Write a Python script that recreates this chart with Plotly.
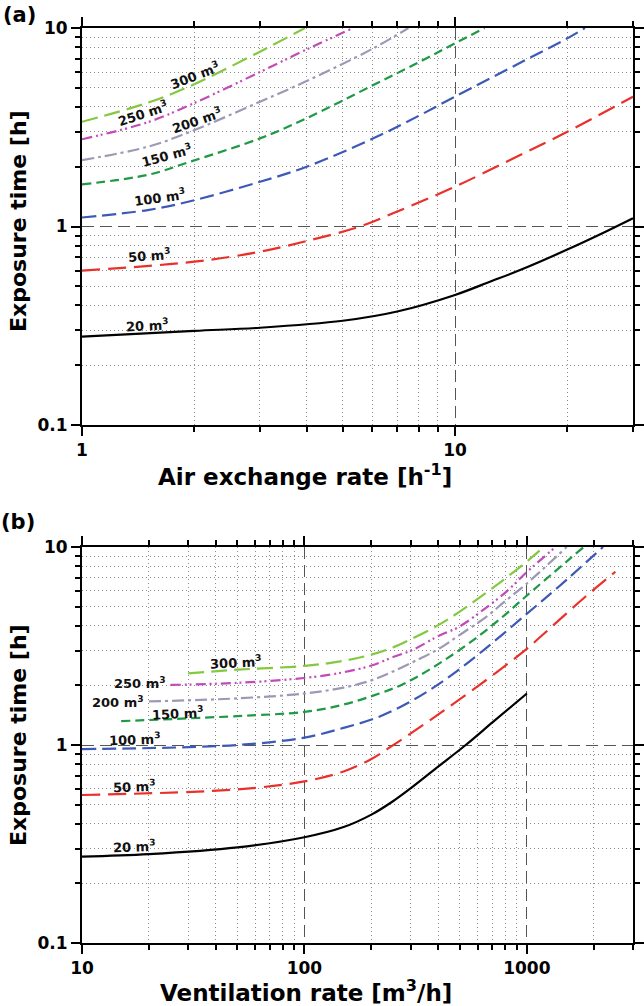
import numpy as np
import plotly.graph_objects as go

# ---------------- data: panel (a) exposure time vs air exchange rate ----------------
a_ach_20 = [1, 2, 3, 5, 7, 10, 12.5, 15, 20, 25, 30]
a_t_20 = [0.279, 0.298, 0.309, 0.335, 0.373, 0.452, 0.53, 0.605, 0.765, 0.93, 1.10]
a_ach_50 = [1, 2, 3, 4, 5.56, 7, 10, 15, 20, 30]
a_t_50 = [0.599, 0.665, 0.746, 0.845, 1.0, 1.19, 1.587, 2.3, 3.0, 4.51]
a_ach_100 = [1, 1.5, 1.95, 3, 4, 6.04, 8.06, 10, 15, 20, 22.3]
a_t_100 = [1.11, 1.21, 1.34, 1.68, 2.0, 2.78, 3.64, 4.51, 6.7, 8.87, 10]
a_ach_150 = [1, 1.5, 1.95, 3, 4, 6.04, 8.06, 10, 12.0]
a_t_150 = [1.63, 1.82, 2.12, 2.78, 3.51, 5.16, 6.77, 8.37, 10]
a_ach_200 = [1, 1.5, 1.95, 3, 4, 6.04, 7.5]
a_t_200 = [2.16, 2.52, 3.0, 4.25, 5.4, 7.9, 10]
a_ach_250 = [1, 1.5, 1.95, 3, 4, 5.33]
a_t_250 = [2.75, 3.35, 4.1, 6.0, 7.8, 10]
a_ach_300 = [1, 1.5, 1.95, 3, 3.96]
a_t_300 = [3.37, 4.2, 5.1, 7.6, 10]

# ---------------- data: panel (b) exposure time vs ventilation rate ----------------
b_q_20 = [10, 20, 50, 100, 150, 200, 250, 300, 390, 531, 700, 1000]
b_t_20 = [0.273, 0.281, 0.304, 0.342, 0.385, 0.445, 0.52, 0.604, 0.762, 1.0, 1.3, 1.82]
b_q_50 = [10, 50, 100, 150, 200, 258, 390, 609, 986, 1151, 1832, 2500]
b_t_50 = [0.559, 0.597, 0.655, 0.735, 0.85, 1.02, 1.40, 2.0, 3.02, 3.52, 5.61, 7.5]
b_q_100 = [10, 50, 100, 150, 217, 306, 432, 631, 986, 1390, 2200]
b_t_100 = [0.953, 1.0, 1.09, 1.22, 1.39, 1.68, 2.15, 2.98, 4.54, 6.3, 10]
b_q_150 = [15, 50, 100, 150, 217, 270, 328, 432, 609, 802, 986, 1801]
b_t_150 = [1.32, 1.40, 1.47, 1.60, 1.82, 2.0, 2.24, 2.71, 3.56, 4.57, 5.61, 10]
b_q_200 = [20, 50, 100, 150, 200, 250, 328, 400, 495, 650, 802, 986, 1510]
b_t_200 = [1.66, 1.72, 1.82, 1.95, 2.12, 2.35, 2.72, 3.05, 3.58, 4.4, 5.35, 6.45, 10]
b_q_250 = [25, 50, 100, 150, 200, 250, 306, 400, 495, 650, 802, 1003, 1346]
b_t_250 = [2.01, 2.06, 2.18, 2.33, 2.52, 2.78, 3.02, 3.55, 3.95, 4.9, 5.9, 7.5, 10]
b_q_300 = [30, 50, 100, 150, 200, 250, 301, 400, 495, 700, 802, 1020, 1191]
b_t_300 = [2.30, 2.40, 2.51, 2.66, 2.86, 3.11, 3.42, 4.03, 4.69, 6.2, 6.95, 8.6, 10]

volume_labels = ["20", "50", "100", "150", "200", "250", "300"]

# curve label anchor positions (data units)
a_label_x = [1.50, 1.52, 1.62, 1.69, 2.03, 1.457, 2.01]
a_label_y = [0.32, 0.72, 1.41, 2.29, 3.44, 3.73, 5.8]
a_label_ang = [-3, -4, -8, -15, -19, -18, -21]
b_label_x = [17.3, 17.3, 17.3, 27.0, 14.55, 18.2, 49.4]
b_label_y = [0.31, 0.623, 1.068, 1.446, 1.655, 2.05, 2.62]
b_label_ang = [-2, -2, -2, -3, 0, 0, -3]

# axis ticks
y_major = [0.1, 1, 10]
y_minor = [0.2, 0.3, 0.4, 0.5, 0.6, 0.7, 0.8, 0.9, 2, 3, 4, 5, 6, 7, 8, 9]
a_x_major = [1, 10]
a_x_minor = [2, 3, 4, 5, 6, 7, 8, 9, 20, 30]
b_x_major = [10, 100, 1000]
b_x_minor = [20, 30, 40, 50, 60, 70, 80, 90, 200, 300, 400, 500, 600, 700, 800, 900, 2000, 3000]

# ---------------- styles ----------------
colors = ["#000000", "#e8312a", "#3d59b8", "#1e9944", "#9d99b5", "#c24bb8", "#84c842"]
dashes = ["solid", "18px,8px", "14px,6px", "9px,5px", "12px,4px,3px,4px",
          "10px,4px,2px,3px,2px,4px", "16px,7px"]
FONT = "DejaVu Sans"

a_series = [(a_ach_20, a_t_20), (a_ach_50, a_t_50), (a_ach_100, a_t_100), (a_ach_150, a_t_150),
            (a_ach_200, a_t_200), (a_ach_250, a_t_250), (a_ach_300, a_t_300)]
b_series = [(b_q_20, b_t_20), (b_q_50, b_t_50), (b_q_100, b_t_100), (b_q_150, b_t_150),
            (b_q_200, b_t_200), (b_q_250, b_t_250), (b_q_300, b_t_300)]

fig = go.Figure()
for i, (xs, ys) in enumerate(a_series):
    fig.add_trace(go.Scatter(x=xs, y=ys, mode="lines", xaxis="x", yaxis="y",
                             line=dict(color=colors[i], width=2.2, dash=dashes[i],
                                       shape="spline", smoothing=1.0),
                             name=volume_labels[i] + " m3", showlegend=False))
for i, (xs, ys) in enumerate(b_series):
    fig.add_trace(go.Scatter(x=xs, y=ys, mode="lines", xaxis="x2", yaxis="y2",
                             line=dict(color=colors[i], width=2.2, dash=dashes[i],
                                       shape="spline", smoothing=1.0),
                             name=volume_labels[i] + " m3", showlegend=False))

X0, X1 = 82 / 644, 633 / 644
YA = [1 - 425 / 1006, 1 - 28 / 1006]
YB = [1 - 943 / 1006, 1 - 547 / 1006]


def fmt(v):
    return f"<b>{v:g}</b>"


def axis(domain, rng, major, minor, anchor):
    return dict(
        type="log", domain=domain, range=rng, anchor=anchor, automargin=False,
        tickvals=major, ticktext=[fmt(v) for v in major],
        ticks="outside", ticklen=9, tickwidth=2, tickcolor="black",
        tickfont=dict(family=FONT, size=17, color="black"),
        showline=True, linewidth=2, linecolor="black", mirror="ticks",
        showgrid=True, gridcolor="#555555", gridwidth=1, griddash="12px,6px",
        zeroline=False,
        minor=dict(tickvals=minor, ticks="outside", ticklen=5, tickwidth=1.5,
                   tickcolor="black", showgrid=True, gridcolor="#8c8c8c",
                   gridwidth=1, griddash="1px,3px"),
    )


fig.update_layout(
    width=644, height=1006,
    margin=dict(l=0, r=0, t=0, b=0, autoexpand=False),
    paper_bgcolor="white", plot_bgcolor="white",
    showlegend=False,
    xaxis=axis([X0, X1], [0, np.log10(30)], a_x_major, a_x_minor, "y"),
    yaxis=axis(YA, [-1, 1], y_major, y_minor, "x"),
    xaxis2=axis([X0, X1], [1, np.log10(3000)], b_x_major, b_x_minor, "y2"),
    yaxis2=axis(YB, [-1, 1], y_major, y_minor, "x2"),
)

ann = []
for i in range(7):
    ann.append(dict(x=np.log10(a_label_x[i]), y=np.log10(a_label_y[i]), xref="x", yref="y",
                    text=f"<b>{volume_labels[i]} m<sup>3</sup></b>", showarrow=False,
                    textangle=a_label_ang[i], font=dict(family=FONT, size=13, color="#111111")))
    ann.append(dict(x=np.log10(b_label_x[i]), y=np.log10(b_label_y[i]), xref="x2", yref="y2",
                    text=f"<b>{volume_labels[i]} m<sup>3</sup></b>", showarrow=False,
                    textangle=b_label_ang[i], font=dict(family=FONT, size=13, color="#111111")))

xtitle_font = dict(family=FONT, size=23, color="black")
ytitle_font = dict(family=FONT, size=22, color="black")
ann += [
    dict(x=305 / 644, y=1 - 475 / 1006, xref="paper", yref="paper", showarrow=False,
         text="<b>Air exchange rate [h<sup>-1</sup>]</b>", font=xtitle_font,
         xanchor="center", yanchor="middle"),
    dict(x=306 / 644, y=1 - 991 / 1006, xref="paper", yref="paper", showarrow=False,
         text="<b>Ventilation rate [m<sup>3</sup>/h]</b>", font=xtitle_font,
         xanchor="center", yanchor="middle"),
    dict(x=19 / 644, y=1 - 221 / 1006, xref="paper", yref="paper", showarrow=False,
         text="<b>Exposure time [h]</b>", font=ytitle_font, textangle=-90,
         xanchor="center", yanchor="middle"),
    dict(x=18 / 644, y=1 - 735 / 1006, xref="paper", yref="paper", showarrow=False,
         text="<b>Exposure time [h]</b>", font=ytitle_font, textangle=-90,
         xanchor="center", yanchor="middle"),
    dict(x=19 / 644, y=1 - 15 / 1006, xref="paper", yref="paper", showarrow=False,
         text="<b>(a)</b>", font=dict(family=FONT, size=21, color="black"),
         xanchor="center", yanchor="middle"),
    dict(x=18 / 644, y=1 - 522 / 1006, xref="paper", yref="paper", showarrow=False,
         text="<b>(b)</b>", font=dict(family=FONT, size=21, color="black"),
         xanchor="center", yanchor="middle"),
]
fig.update_layout(annotations=ann)

fig.write_html("out.html", config={"displayModeBar": False},
               post_script="document.body.style.margin='0px';document.body.style.overflow='hidden';")
